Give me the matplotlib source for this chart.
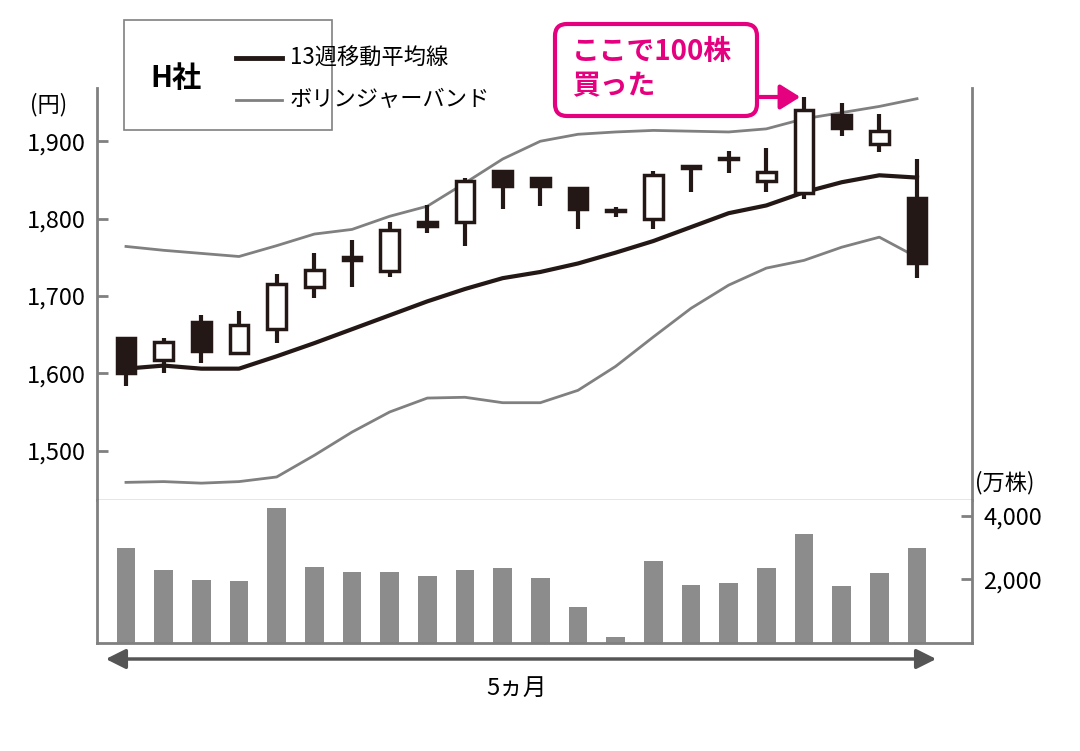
import matplotlib
matplotlib.use("Agg")
import matplotlib.pyplot as plt
from matplotlib.patches import FancyBboxPatch, Rectangle, FancyArrowPatch
import numpy as np

plt.rcParams['font.family'] = ['Noto Sans CJK JP', 'DejaVu Sans']

opens  = [1646,1617,1666,1626,1657,1712,1746,1732,1795,1795,1862,1852,1840,1811,1800,1866,1877,1848,1833,1934,1897,1826]
closes = [1600,1640,1629,1662,1716,1734,1750,1785,1790,1848,1842,1842,1813,1810,1857,1866,1877,1860,1941,1917,1913,1742]
highs  = [1646,1645,1676,1681,1729,1755,1772,1795,1817,1852,1862,1852,1840,1815,1861,1867,1887,1891,1957,1949,1935,1877]
lows   = [1583,1600,1613,1629,1639,1697,1712,1724,1782,1764,1813,1816,1787,1802,1787,1834,1859,1834,1825,1907,1886,1723]
black_body = [True,False,True,False,False,False,True,False,True,False,True,True,True,True,False,True,True,False,False,True,False,True]
ma13  = [1606,1610,1606,1606,1622,1639,1657,1675,1693,1709,1723,1731,1742,1756,1771,1789,1807,1817,1834,1847,1856,1853]
upper = [1764,1759,1755,1751,1765,1780,1786,1803,1816,1846,1877,1900,1909,1912,1914,1913,1912,1916,1929,1937,1945,1955]
lower = [1459,1460,1458,1460,1466,1494,1524,1550,1568,1569,1562,1562,1578,1609,1647,1684,1714,1736,1746,1763,1776,1750]
volume = [2980,2290,1970,1940,4250,2380,2220,2220,2100,2290,2350,2030,1140,190,2570,1810,1900,2350,3430,1780,2190,2980]
yticks = [1500,1600,1700,1800,1900]
vticks = [2000,4000]

C = '#231815'
G = '#808080'
fig = plt.figure(figsize=(10.8,7.51), dpi=100)
ax = fig.add_axes([0.0898,0.334,0.8102,0.549])
axv = fig.add_axes([0.0898,0.144,0.8102,0.190], sharex=ax)
x = np.arange(len(opens))
ax.plot(x, upper, color=G, lw=2, zorder=1)
ax.plot(x, lower, color=G, lw=2, zorder=1)
ax.plot(x, ma13, color=C, lw=3, zorder=2)
w = 0.5
for i in x:
    ax.plot([i,i],[lows[i],highs[i]], color=C, lw=3, zorder=3, solid_capstyle='butt')
    b = min(opens[i],closes[i]); h = max(abs(opens[i]-closes[i]), 1.5)
    ax.add_patch(Rectangle((i-w/2,b), w, h, facecolor=C if black_body[i] else 'white',
                           edgecolor=C, lw=2.5, zorder=4))
ax.set_xlim(-0.77,22.46)
ax.set_ylim(1436,1969)
ax.set_yticks(yticks)
ax.set_yticklabels([f'{v:,}' for v in yticks], fontsize=17)
ax.tick_params(axis='y', direction='in', length=8, width=2, color=G, pad=8)
ax.tick_params(axis='x', bottom=False, labelbottom=False)
ax.spines['top'].set_visible(False)
ax.spines['left'].set_color(G); ax.spines['right'].set_color(G)
ax.spines['left'].set_linewidth(2); ax.spines['right'].set_linewidth(2)
ax.spines['bottom'].set_color(G); ax.spines['bottom'].set_linewidth(1)

axv.bar(x, volume, width=0.5, color='#8c8c8c')
axv.set_ylim(0,4500)
axv.yaxis.tick_right()
axv.set_yticks(vticks)
axv.set_yticklabels([f'{v:,}' for v in vticks], fontsize=17)
axv.tick_params(axis='y', direction='in', length=8, width=2, color=G, pad=8)
axv.tick_params(axis='x', bottom=False, labelbottom=False)
axv.spines['top'].set_visible(False)
for s in ['left','right','bottom']:
    axv.spines[s].set_color(G); axv.spines[s].set_linewidth(2)

# overlay in pixel coordinates
ov = fig.add_axes([0,0,1,1])
ov.set_xlim(0,1080); ov.set_ylim(751,0)
ov.axis('off'); ov.patch.set_visible(False)

ov.text(30, 105, '(円)', fontsize=16, va='center')
ov.text(975, 483, '(万株)', fontsize=16, va='center')

ov.add_patch(Rectangle((124,20),208,110, facecolor='white', edgecolor=G, lw=1.2))
ov.text(150, 78, 'H社', fontsize=21, fontweight='bold', va='center')
ov.plot([236,282],[58,58], color=C, lw=3.5)
ov.plot([236,282],[100,100], color=G, lw=2)
ov.text(290, 58, '13週移動平均線', fontsize=16, va='center')
ov.text(290, 100, 'ボリンジャーバンド', fontsize=16, va='center')

P = '#e4007f'
ov.add_patch(FancyBboxPatch((555,24),202,92, boxstyle='round,pad=0,rounding_size=12',
                            facecolor='white', edgecolor=P, lw=3, mutation_aspect=1))
ov.text(572, 69, 'ここで100株\n買った', fontsize=20, fontweight='bold', color=P,
        va='center', linespacing=1.3)
ov.add_patch(FancyArrowPatch((757,97),(803,97), arrowstyle='-|>,head_length=8,head_width=5',
                             color=P, lw=3, mutation_scale=1.5))

ov.add_patch(FancyArrowPatch((103,659),(939,659), arrowstyle='<|-|>,head_length=12,head_width=6',
                             color='#555555', lw=2.5))
ov.text(517, 688, '5ヵ月', fontsize=17, ha='center', va='center')

fig.savefig('out.png', dpi=100)
